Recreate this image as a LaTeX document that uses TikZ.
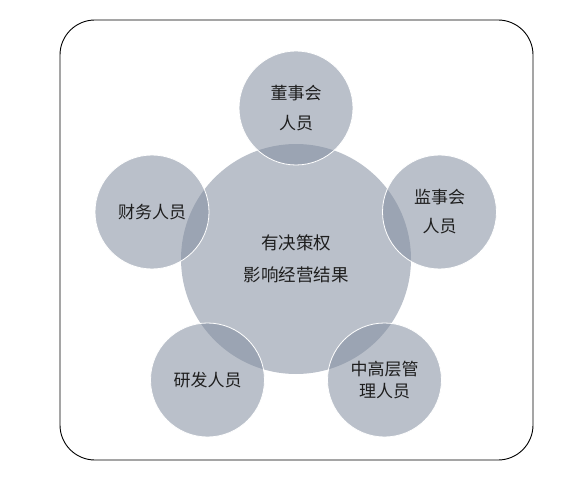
\documentclass[tikz,border=0pt]{standalone}
\usepackage{fontspec}
\newfontfamily\cjk{Noto Sans CJK SC}
\definecolor{bub}{RGB}{130,141,159}
\definecolor{txt}{RGB}{30,30,30}
\tikzset{
  bubble/.style={circle, fill=bub, fill opacity=0.55, text opacity=1, draw=white, line width=0.8pt,
    minimum size=#1, inner sep=0pt, align=center, text=txt},
  core/.style={circle, fill=bub, fill opacity=0.55, text opacity=1, draw=none,
    minimum size=230pt, inner sep=0pt, align=center, text=txt},
  frame/.style={draw=black, line width=0.9pt, rounded corners=35pt}
}
\begin{document}
\begin{tikzpicture}[x=1pt,y=-1pt]
\useasboundingbox (0,0) rectangle (564,478);
\draw[frame] (60,20) rectangle (533,460);
\node[core, font=\cjk\fontsize{17.5}{32}\selectfont] (c) at (296,259) {有决策权\\影响经营结果};
\node[bubble=114pt, font=\cjk\fontsize{17}{30}\selectfont] (t) at (296,108) {董事会\\人员};
\node[bubble=114pt, font=\cjk\fontsize{17}{29}\selectfont] (r) at (439.5,212) {监事会\\人员};
\node[bubble=114pt, font=\cjk\fontsize{17}{22}\selectfont] (br) at (384.5,380) {中高层管\\理人员};
\node[bubble=114pt, font=\cjk\fontsize{17}{22}\selectfont] (bl) at (207.5,380) {研发人员};
\node[bubble=114pt, font=\cjk\fontsize{17}{22}\selectfont] (l) at (152,212) {财务人员};
\end{tikzpicture}
\end{document}
